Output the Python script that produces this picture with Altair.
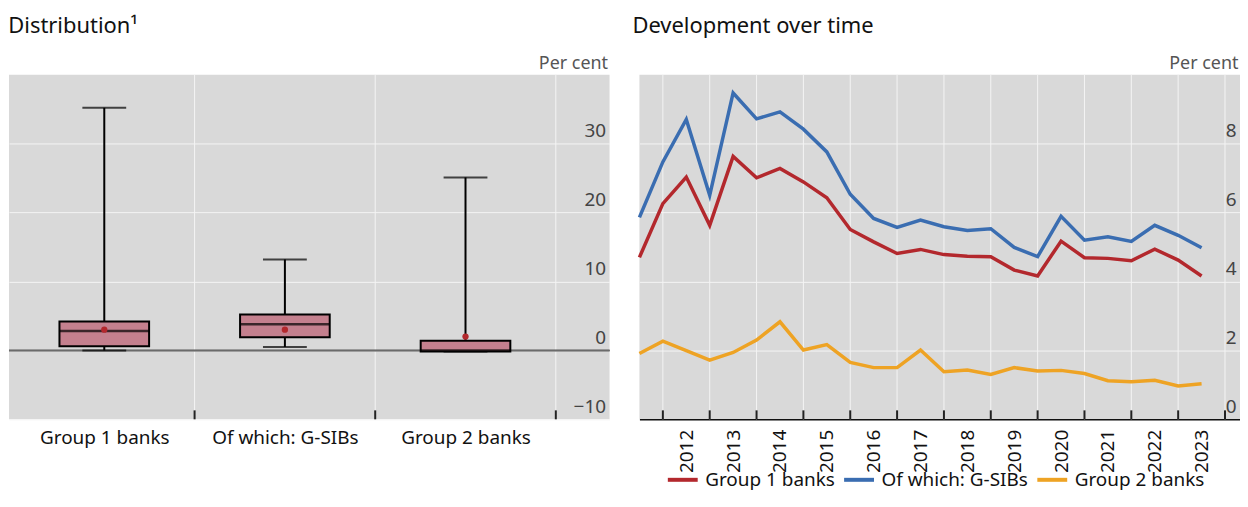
import json
import altair as alt
import pandas as pd

FONT = "Noto Sans"

# ---------------- Left panel: distribution (per cent) ----------------
groups = ["Group 1 banks", "Of which: G-SIBs", "Group 2 banks"]
whisker_low = [0.0, 0.5, -0.15]
box_q1 = [0.6, 1.9, -0.15]
box_median = [2.8, 3.8, 0.0]
box_q3 = [4.2, 5.2, 1.4]
whisker_high = [35.2, 13.2, 25.1]
box_mean = [3.0, 3.0, 2.0]
left_yticks = [-10, 0, 10, 20, 30]

# ---------------- Right panel: development over time ----------------
periods = ["2011-06", "2011-12", "2012-06", "2012-12", "2013-06", "2013-12",
           "2014-06", "2014-12", "2015-06", "2015-12", "2016-06", "2016-12",
           "2017-06", "2017-12", "2018-06", "2018-12", "2019-06", "2019-12",
           "2020-06", "2020-12", "2021-06", "2021-12", "2022-06", "2022-12",
           "2023-06"]
group1 = [4.70, 6.26, 7.03, 5.63, 7.63, 7.01, 7.28, 6.89, 6.43, 5.51, 5.15, 4.81,
          4.93, 4.78, 4.73, 4.72, 4.33, 4.16, 5.17, 4.69, 4.67, 4.60, 4.94, 4.62, 4.16]
gsibs = [5.86, 7.47, 8.70, 6.50, 9.47, 8.72, 8.92, 8.42, 7.76, 6.53, 5.83, 5.57,
         5.78, 5.59, 5.48, 5.53, 4.99, 4.72, 5.89, 5.20, 5.30, 5.16, 5.63, 5.34, 4.98]
group2 = [1.91, 2.27, 1.99, 1.72, 1.94, 2.30, 2.83, 2.01, 2.17, 1.65, 1.50, 1.50,
          2.01, 1.38, 1.43, 1.30, 1.50, 1.40, 1.42, 1.33, 1.12, 1.09, 1.13, 0.97, 1.03]
series_names = ["Group 1 banks", "Of which: G-SIBs", "Group 2 banks"]
series_colors = ["#b3282d", "#3a6db1", "#eea324"]
right_yticks = [0, 2, 4, 6, 8]
year_labels = list(range(2012, 2024))
year_bounds = list(range(2012, 2025))

BG = "#d9d9d9"
GRID = "#f4f4f4"
W = 603
H = 346

# ---------- left chart ----------
box_df = pd.DataFrame({
    "group": groups,
    "pos": [i + 0.5 for i in range(len(groups))],
    "low": whisker_low, "q1": box_q1, "med": box_median,
    "q3": box_q3, "high": whisker_high, "mean": box_mean,
})
bounds_df = pd.DataFrame({"pos": [i + 1 for i in range(len(groups))]})

label_expr = "%s[floor(datum.value)]" % json.dumps(groups)
xL_scale = alt.Scale(domain=[0, 3.27], nice=False, zero=False)
yL_scale = alt.Scale(domain=[-10, 40], nice=False, zero=False)

xL_axis = alt.Axis(values=[0.5, 1.5, 2.5], labelExpr=label_expr, title=None,
                   ticks=False, tickSize=0, domain=False, grid=False,
                   labelFontSize=19, labelColor="#111", labelFont=FONT,
                   labelBaseline="middle", labelPadding=18,
                   labelFlush=False, labelOverlap=False)
xL = alt.X("pos:Q", scale=xL_scale, axis=xL_axis)
yL_axis = alt.Axis(values=left_yticks, orient="right", grid=True, gridColor=GRID,
                   gridWidth=1, ticks=False, tickSize=0, domain=False,
                   labelAlign="right", labelPadding=-4, labelBaseline="alphabetic",
                   labelOffset=-7, labelFontSize=19, labelColor="#444", labelFont=FONT,
                   title="Per cent", titleAngle=0, titleAlign="right", titleX=-2,
                   titleY=-11, titleBaseline="middle", titleFontSize=18,
                   titleFontWeight="normal", titleColor="#555", titleFont=FONT)
yL = lambda f: alt.Y(f, scale=yL_scale, axis=yL_axis)

vgrid_L = alt.Chart(bounds_df).mark_rule(color=GRID, strokeWidth=1).encode(x=xL)
ticks_L = alt.Chart(bounds_df).mark_rule(color="#222", strokeWidth=2).encode(
    x=xL, y=alt.datum(-10, scale=yL_scale, axis=yL_axis), y2=alt.datum(-8.7))
zero_L = alt.Chart(bounds_df).mark_rule(color="#6b6b6b", strokeWidth=1.5).encode(
    y=alt.datum(0, scale=yL_scale, axis=yL_axis))

base = alt.Chart(box_df)
whisk = base.mark_rule(color="black", strokeWidth=2).encode(
    x=xL, y=yL("low:Q"), y2="high:Q")
cap_lo = base.mark_tick(orient="horizontal", size=44, thickness=2, color="black").encode(
    x=xL, y=yL("low:Q"))
cap_hi = base.mark_tick(orient="horizontal", size=44, thickness=2, color="black").encode(
    x=xL, y=yL("high:Q"))
box = base.mark_bar(orient="vertical", size=90, color="#c4808e", stroke="black",
                    strokeWidth=2).encode(x=xL, y=yL("q1:Q"), y2="q3:Q")
med = base.mark_tick(orient="horizontal", size=90, thickness=2.5, color="black").encode(
    x=xL, y=yL("med:Q"))
mean_pt = base.mark_circle(size=40, color="#b3282d", opacity=1).encode(
    x=xL, y=yL("mean:Q"))

left = alt.layer(vgrid_L, ticks_L, zero_L, whisk, cap_lo, cap_hi, box, med, mean_pt).properties(
    width=W, height=H,
    title=alt.TitleParams("Distribution¹", anchor="start", fontSize=22,
                          fontWeight="normal", font=FONT, color="#111", offset=17))

# ---------- right chart ----------
def period_to_num(p):
    y, m = p.split("-")
    return int(y) + int(m) / 12.0

rows = []
for name, vals in zip(series_names, [group1, gsibs, group2]):
    for p, v in zip(periods, vals):
        rows.append({"t": period_to_num(p), "value": v, "series": name})
line_df = pd.DataFrame(rows)
years_df = pd.DataFrame({"t": year_bounds})

X0, X1 = 2011.5, 2024.32
xR_scale = alt.Scale(domain=[X0, X1], nice=False, zero=False)
yR_scale = alt.Scale(domain=[0, 10], nice=False, zero=False)
half_year_px = W / (X1 - X0) / 2

xR_axis = alt.Axis(values=year_labels, grid=False,
                   ticks=False, tickSize=0, domain=True, domainColor="#111",
                   domainWidth=1.5, labelAngle=270, labelAlign="right",
                   labelBaseline="middle", labelOffset=half_year_px, labelPadding=10,
                   format="d",
                   labelFontSize=19, labelColor="#111", labelFont=FONT,
                   labelFlush=False, labelOverlap=False, title=None)
yR_axis = alt.Axis(values=right_yticks, orient="right", grid=True, gridColor=GRID,
                   gridWidth=1, ticks=False, tickSize=0, domain=False,
                   labelAlign="right", labelPadding=-4, labelBaseline="alphabetic",
                   labelOffset=-7, labelFontSize=19, labelColor="#444", labelFont=FONT,
                   title="Per cent", titleAngle=0, titleAlign="right", titleX=-2,
                   titleY=-11, titleBaseline="middle", titleFontSize=18,
                   titleFontWeight="normal", titleColor="#555", titleFont=FONT)
xR = alt.X("t:Q", scale=xR_scale, axis=xR_axis)
yR = lambda f: alt.Y(f, scale=yR_scale, axis=yR_axis)

vgrid_R = alt.Chart(years_df).mark_rule(color=GRID, strokeWidth=1).encode(x=xR)
lines = alt.Chart(line_df).mark_line(strokeWidth=3.5).encode(
    x=xR,
    y=yR("value:Q"),
    color=alt.Color("series:N",
                    scale=alt.Scale(domain=series_names, range=series_colors),
                    legend=alt.Legend(orient="none", legendX=34, legendY=397,
                                      direction="horizontal", title=None,
                                      symbolType="M-3,0H3", symbolSize=100,
                                      symbolStrokeWidth=4, labelFontSize=19,
                                      labelFont=FONT, labelColor="#111",
                                      columnPadding=0, labelOffset=13, padding=0)),
    detail="series:N")
ticks_R = alt.Chart(years_df).mark_rule(color="#222", strokeWidth=2).encode(
    x=xR, y=alt.datum(0, scale=yR_scale, axis=yR_axis), y2=alt.datum(0.26))

right = alt.layer(vgrid_R, lines, ticks_R).properties(
    width=W, height=H,
    title=alt.TitleParams("Development over time", anchor="start", fontSize=22,
                          fontWeight="normal", font=FONT, color="#111", offset=17))

chart = alt.hconcat(left, right, spacing=22).resolve_legend(color="independent").properties(
    padding={"left": 0, "top": 6, "right": 0, "bottom": 0}
).configure(font=FONT).configure_view(fill=BG, stroke=None)

chart.save("out.html", embed_options={"renderer": "svg", "actions": False})
